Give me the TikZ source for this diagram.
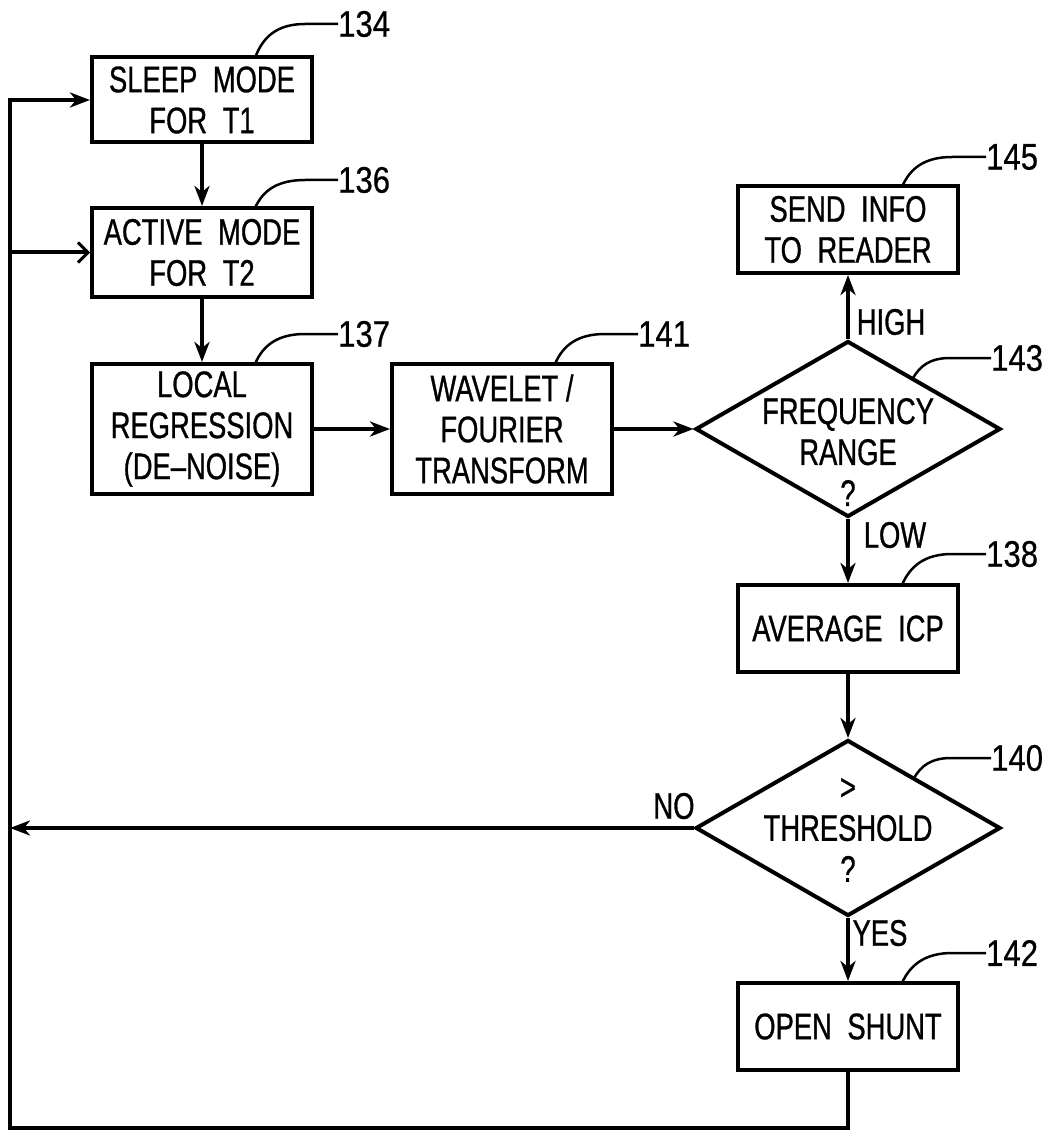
\documentclass[tikz,border=0pt]{standalone}
\usepackage{fontspec}
\setmainfont{Liberation Sans}[FakeStretch=0.74,FakeBold=0.8]
\newfontfamily\numfam{Liberation Sans}[FakeStretch=0.84,FakeBold=0.6]
\usetikzlibrary{shapes.geometric,arrows.meta}
\newcommand\wsp{\hspace{0.42em}}
\newcommand\boxfont{\fontsize{37}{41}\selectfont}
\newcommand\numfont{\numfam\fontsize{37}{41}\selectfont}
\begin{document}
\begin{tikzpicture}[x=1pt,y=-1pt,
  box/.style={draw, line width=4pt, minimum width=220pt, inner sep=0pt, align=center, font=\boxfont},
  dia/.style={draw, diamond, line width=4pt, minimum width=305pt, minimum height=176pt, inner sep=0pt},
  txt/.style={inner sep=0pt, align=center, font=\boxfont},
  num/.style={inner sep=0pt, anchor=west, font=\numfont},
  lead/.style={line width=2.5pt},
  conn/.style={line width=4pt, -{Stealth[length=20pt,width=15pt,inset=6pt]}},
  line/.style={line width=4pt}]
\useasboundingbox (0,0) rectangle (1048,1131);

% boxes
\node[box, minimum height=85pt] (n134) at (202,100) {SLEEP\wsp MODE\\FOR\wsp T1};
\node[box, minimum height=89pt] (n136) at (202,252.5) {ACTIVE\wsp MODE\\FOR\wsp T2};
\node[box, minimum height=130pt] (n137) at (202,429) {LOCAL\\REGRESSION\\(DE--NOISE)};
\node[box, minimum height=130pt] (n141) at (502,429) {WAVELET /\\FOURIER\\TRANSFORM};
\node[box, minimum height=87pt] (n145) at (848,229.5) {SEND\wsp INFO\\TO\wsp READER};
\node[box, minimum height=87pt] (n138) at (848,628.5) {AVERAGE\wsp ICP};
\node[box, minimum height=87pt] (n142) at (848,1026.5) {OPEN\wsp SHUNT};

% diamonds
\node[dia] (d143) at (848,429) {};
\node[txt] (t143) at (848,452) {FREQUENCY\\RANGE\\?};
\node[dia] (d140) at (848,828) {};
\node[txt] (t140) at (848,830) {>\\THRESHOLD\\?};

% branch labels
\node[txt] (high) at (891,322) {HIGH};
\node[txt] (low) at (895,535) {LOW};
\node[txt] (yes) at (880,933) {YES};
\node[txt] (no) at (674,806) {NO};

% reference numerals
\node[num] (l134) at (338,24) {134};
\node[num] (l136) at (338,180) {136};
\node[num] (l137) at (338,334) {137};
\node[num] (l141) at (638,334) {141};
\node[num] (l145) at (986,157) {145};
\node[num] (l143) at (991,358) {143};
\node[num] (l138) at (986,554) {138};
\node[num] (l140) at (991,758) {140};
\node[num] (l142) at (986,953) {142};

% leaders
\draw[lead] (255,58) .. controls (263,36) and (278,24) .. (305,24) -- (l134.west);
\draw[lead] (255,208) .. controls (263,190) and (278,180) .. (305,180) -- (l136.west);
\draw[lead] (255,364) .. controls (263,345) and (278,334) .. (305,334) -- (l137.west);
\draw[lead] (555,364) .. controls (563,345) and (578,334) .. (605,334) -- (l141.west);
\draw[lead] (902,187) .. controls (910,168) and (925,157) .. (952,157) -- (l145.west);
\draw[lead] (913,378) .. controls (920,366) and (930,358) .. (950,358) -- (l143.west);
\draw[lead] (902,585) .. controls (910,566) and (925,554) .. (952,554) -- (l138.west);
\draw[lead] (914,778) .. controls (921,766) and (931,758) .. (951,758) -- (l140.west);
\draw[lead] (902,983) .. controls (910,965) and (925,953) .. (952,953) -- (l142.west);

% connectors
\draw[conn] (n134.south) -- (n136.north);
\draw[conn] (n136.south) -- (n137.north);
\draw[conn] (n137.east) -- (n141.west);
\draw[conn] (n141.east) -- (d143.west);
\draw[conn] (d143.north) -- (n145.south);
\draw[conn] (d143.south) -- (n138.north);
\draw[conn] (n138.south) -- (d140.north);
\draw[conn] (d140.south) -- (n142.north);

% feedback loop
\coordinate (bl) at (10,1128);
\coordinate (j136) at (10,252.5);
\draw[conn] (n142.south) |- (bl) |- (n134.west);
\draw[line width=4pt, -{Straight Barb[length=10pt,width=20pt,line width=3pt]}] (j136) -- (n136.west);
\draw[conn] (d140.west) -- (d140.west -| bl);
\end{tikzpicture}
\end{document}
